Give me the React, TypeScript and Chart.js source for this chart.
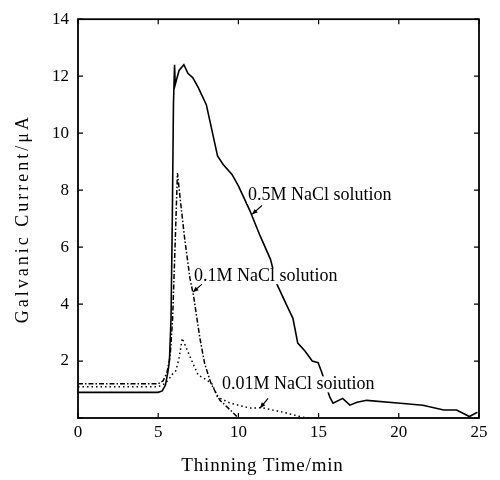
import React, { useEffect, useRef } from "react";
import { Chart, registerables } from "chart.js";

Chart.register(...registerables);

// 0.5M NaCl solution (solid)
const solidX = [0, 5.0, 5.25, 5.45, 5.6, 5.7, 5.8, 5.88, 5.95, 6.02, 6.06, 6.3, 6.6, 6.85, 7.15, 7.5, 8.0, 8.7, 9.05, 9.6, 10.0, 10.7, 11.35, 12.0, 12.4, 13.0, 13.4, 13.7, 14.15, 14.6, 14.97, 15.2, 15.7, 15.9, 16.5, 16.95, 17.4, 18.0, 20.1, 21.5, 22.8, 23.6, 24.4, 24.9];
const solidY = [0.9, 0.9, 0.95, 1.15, 1.6, 2.0, 3.5, 7.0, 11.0, 12.4, 11.7, 12.2, 12.4, 12.1, 11.95, 11.6, 11.0, 9.2, 8.9, 8.55, 8.15, 7.3, 6.4, 5.57, 4.7, 3.97, 3.5, 2.63, 2.35, 2.0, 1.94, 1.6, 0.73, 0.52, 0.69, 0.45, 0.55, 0.62, 0.52, 0.45, 0.28, 0.28, 0.05, 0.2];

// 0.1M NaCl solution (dash-dot)
const dashX = [0, 5.0, 5.3, 5.55, 5.75, 5.9, 6.05, 6.2, 6.35, 6.65, 6.98, 7.2, 7.6, 7.9, 8.3, 8.85, 9.5, 10.0];
const dashY = [1.2, 1.2, 1.3, 1.6, 2.2, 3.5, 6.0, 8.6, 7.8, 6.3, 4.9, 4.3, 2.8, 1.9, 1.2, 0.62, 0.28, 0];

// 0.01M NaCl solution (dotted)
const dotX = [0, 5.0, 5.4, 5.65, 5.9, 6.1, 6.3, 6.5, 6.8, 7.1, 7.5, 7.9, 8.35, 8.7, 9.5, 10.7, 11.5, 12.8, 14.0, 14.4];
const dotY = [1.1, 1.1, 1.2, 1.35, 1.55, 1.66, 2.1, 2.8, 2.4, 2.0, 1.5, 1.38, 1.2, 0.73, 0.52, 0.35, 0.36, 0.2, 0.03, 0];

const xTicks = [0, 5, 10, 15, 20, 25];
const yTicks = [0, 2, 4, 6, 8, 10, 12, 14];

// annotation labels: text, anchor (data units), arrow from -> to (data units)
const labelTexts = ["0.5M NaCl solution", "0.1M NaCl solution", "0.01M NaCl soiution"];
const labelAnchors = [[10.6, 7.81], [7.23, 4.98], [8.98, 1.18]];
const arrowFrom = [[11.47, 7.46], [7.73, 4.7], [11.85, 0.69]];
const arrowTo = [[10.85, 7.15], [7.17, 4.42], [11.35, 0.35]];

const FONT = "'Liberation Serif', 'DejaVu Serif', serif";

const toPts = (xs: number[], ys: number[]) => xs.map((x, i) => ({ x, y: ys[i] }));

const spacedTitle = (ls: string, size: number, dx: number) => (s: any) => {
  if (!s._spacedPatched) {
    const orig = s.drawTitle.bind(s);
    s.drawTitle = function () {
      const c = this.ctx;
      c.save();
      try { (c as any).letterSpacing = ls; } catch (e) {}
      c.translate(dx, 0);
      orig();
      c.restore();
    };
    s._spacedPatched = true;
  }
  if (s.isHorizontal()) s.height = size; else s.width = size;
};

const framePlugin = {
  id: "frameTicks",
  afterDatasetsDraw(chart: any) {
    const { ctx, chartArea: a, scales } = chart;
    const xs = scales.x;
    const ys = scales.y;
    ctx.save();
    // annotations
    ctx.font = `18px ${FONT}`;
    ctx.textBaseline = "middle";
    ctx.textAlign = "left";
    labelTexts.forEach((t, i) => {
      const px = xs.getPixelForValue(labelAnchors[i][0]);
      const py = ys.getPixelForValue(labelAnchors[i][1]);
      const w = ctx.measureText(t).width;
      ctx.fillStyle = "#fff";
      ctx.fillRect(px - 1, py - 8, w + 2, 16);
      ctx.fillStyle = "#000";
      ctx.fillText(t, px, py);
      const fx = xs.getPixelForValue(arrowFrom[i][0]);
      const fy = ys.getPixelForValue(arrowFrom[i][1]);
      const tx = xs.getPixelForValue(arrowTo[i][0]);
      const ty = ys.getPixelForValue(arrowTo[i][1]);
      ctx.strokeStyle = "#000";
      ctx.lineWidth = 1.2;
      ctx.beginPath();
      ctx.moveTo(fx, fy);
      ctx.lineTo(tx, ty);
      ctx.stroke();
      const ang = Math.atan2(ty - fy, tx - fx);
      const L = 6, W = 0.4;
      ctx.beginPath();
      ctx.moveTo(tx, ty);
      ctx.lineTo(tx - L * Math.cos(ang - W), ty - L * Math.sin(ang - W));
      ctx.lineTo(tx - L * Math.cos(ang + W), ty - L * Math.sin(ang + W));
      ctx.closePath();
      ctx.fillStyle = "#000";
      ctx.fill();
    });
    // frame
    ctx.strokeStyle = "#000";
    ctx.lineWidth = 1.8;
    ctx.strokeRect(a.left, a.top, a.right - a.left, a.bottom - a.top);
    ctx.lineWidth = 1.2;
    const tl = 5;
    ctx.beginPath();
    xTicks.forEach((v) => {
      const p = xs.getPixelForValue(v);
      ctx.moveTo(p, a.bottom);
      ctx.lineTo(p, a.bottom - tl);
      ctx.moveTo(p, a.top);
      ctx.lineTo(p, a.top + tl);
    });
    yTicks.forEach((v) => {
      const p = ys.getPixelForValue(v);
      ctx.moveTo(a.left, p);
      ctx.lineTo(a.left + tl, p);
      ctx.moveTo(a.right, p);
      ctx.lineTo(a.right - tl, p);
    });
    ctx.stroke();
    ctx.restore();
  },
};

export default function App() {
  const ref = useRef<HTMLCanvasElement | null>(null);
  useEffect(() => {
    document.body.style.margin = "0";
    if (!ref.current) return;
    const chart = new Chart(ref.current, {
      type: "scatter",
      data: {
        datasets: [
          {
            label: "0.5M NaCl solution",
            data: toPts(solidX, solidY),
            showLine: true,
            borderColor: "#000",
            borderWidth: 1.6,
            pointRadius: 0,
            tension: 0,
          },
          {
            label: "0.1M NaCl solution",
            data: toPts(dashX, dashY),
            showLine: true,
            borderColor: "#000",
            borderWidth: 1.5,
            borderDash: [5, 2, 1.5, 2],
            pointRadius: 0,
            tension: 0,
          },
          {
            label: "0.01M NaCl soiution",
            data: toPts(dotX, dotY),
            showLine: true,
            borderColor: "#000",
            borderWidth: 1.5,
            borderDash: [1.5, 3],
            pointRadius: 0,
            tension: 0,
          },
        ],
      },
      options: {
        animation: false,
        responsive: false,
        layout: { padding: { top: 13, right: 21, left: 0, bottom: 0 } },
        plugins: { legend: { display: false }, tooltip: { enabled: false } },
        scales: {
          x: {
            type: "linear",
            min: 0,
            max: 25,
            grid: { display: false, drawTicks: false },
            border: { display: false },
            afterFit: spacedTitle("0.8px", 62, -16),
            ticks: {
              stepSize: 5,
              padding: 4,
              color: "#000",
              font: { family: FONT, size: 17 },
              maxRotation: 0,
            },
            title: {
              display: true,
              text: "Thinning Time/min",
              color: "#000",
              font: { family: FONT, size: 19 },
              padding: { top: 0, bottom: 3 },
            },
          },
          y: {
            type: "linear",
            min: 0,
            max: 14,
            grid: { display: false, drawTicks: false },
            border: { display: false },
            afterFit: spacedTitle("3px", 78, 0),
            ticks: {
              stepSize: 2,
              padding: 9,
              color: "#000",
              font: { family: FONT, size: 17 },
              callback: (v: any) => (v === 0 ? "" : String(v)),
            },
            title: {
              display: true,
              text: "Galvanic Current/μA",
              color: "#000",
              font: { family: FONT, size: 18 },
              padding: { top: 12, bottom: 0 },
            },
          },
        },
      },
      plugins: [framePlugin],
    });
    return () => chart.destroy();
  }, []);
  return (
    <div style={{ width: 500, height: 480 }}>
      <canvas ref={ref} width={500} height={480} style={{ display: "block" }} />
    </div>
  );
}
